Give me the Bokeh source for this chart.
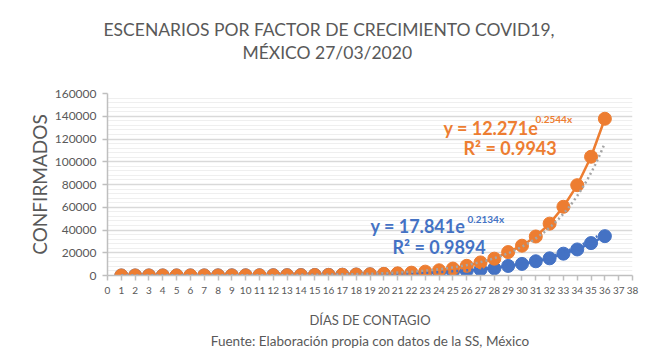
import numpy as np
from bokeh.plotting import figure
from bokeh.models import Range1d, Label, FixedTicker, NumeralTickFormatter, Title
from bokeh.embed import file_html
from bokeh.resources import INLINE

# ---------------- data ----------------
dias = list(range(1, 37))
escenario_alto = [8, 10, 14, 18, 24, 31, 41, 54, 70, 93, 122, 160, 210, 277, 364, 479,
                  630, 828, 1089, 1432, 1883, 2476, 3400, 4600, 6100, 8500, 11500, 14800,
                  20600, 26200, 34300, 45600, 60400, 79400, 104400, 137800]
escenario_bajo = [30, 37, 45, 55, 67, 81, 99, 120, 146, 178, 216, 263, 320, 389, 473, 575,
                  700, 850, 1035, 1260, 1530, 1860, 2270, 2760, 3350, 4100, 5200, 6300,
                  8400, 10200, 12500, 15100, 19200, 22900, 28500, 34600]
x_ticks = list(range(0, 39))
y_ticks = list(range(0, 160001, 20000))
y_minor = [v for v in range(0, 160001, 4000) if v % 20000 != 0]

titulo = ["ESCENARIOS POR FACTOR DE CRECIMIENTO COVID19,", "MÉXICO 27/03/2020"]
eje_x = "DÍAS DE CONTAGIO"
eje_y = "CONFIRMADOS"
fuente = "Fuente: Elaboración propia con datos de la SS, México"

# trendline equations shown on the chart
a_alto, b_alto, r2_alto = 12.271, 0.2544, 0.9943
a_bajo, b_bajo, r2_bajo = 17.841, 0.2134, 0.9894

ORANGE = "#ED7D31"
BLUE = "#4472C4"
GRAY_TXT = "#595959"
FONT = "Lato"

W, H = 644, 348
L, R, T, B = 107, 12, 93, 71
FW, FH = W - L - R, H - T - B
X0, X1, Y0, Y1 = 0, 38, 0, 160000


def dx(px):
    return X0 + (px - L) / FW * (X1 - X0)


def dy(py):
    return Y0 + (T + FH - py) / FH * (Y1 - Y0)


p = figure(width=W, height=H, output_backend="svg", toolbar_location=None,
           x_range=Range1d(X0, X1), y_range=Range1d(Y0, Y1),
           min_border_left=L, min_border_right=R, min_border_top=T, min_border_bottom=B)
p.outline_line_color = None
p.background_fill_color = "white"
p.border_fill_color = "white"

p.xgrid.visible = False
p.ygrid.ticker = FixedTicker(ticks=y_ticks, minor_ticks=y_minor)
p.ygrid.grid_line_color = "#d9d9d9"
p.ygrid.grid_line_width = 1.5
p.ygrid.minor_grid_line_color = "#efefef"
p.ygrid.minor_grid_line_width = 1

for ax in (p.xaxis[0], p.yaxis[0]):
    ax.axis_line_color = "#bfbfbf"
    ax.axis_line_width = 1.5
    ax.major_tick_line_color = "#bfbfbf"
    ax.major_tick_line_width = 1.5
    ax.major_tick_in = 0
    ax.major_tick_out = 5
    ax.minor_tick_line_color = None
    ax.major_label_text_color = GRAY_TXT
    ax.major_label_text_font = FONT
    ax.axis_label_text_color = GRAY_TXT
    ax.axis_label_text_font = FONT
    ax.axis_label_text_font_style = "normal"

p.xaxis.ticker = FixedTicker(ticks=x_ticks)
p.xaxis.major_label_text_font_size = "10px"
p.xaxis.major_label_standoff = 6
p.xaxis.axis_label = eje_x
p.xaxis.axis_label_text_font_size = "13px"
p.xaxis.axis_label_standoff = 15

p.yaxis.ticker = FixedTicker(ticks=y_ticks)
p.yaxis.formatter = NumeralTickFormatter(format="0")
p.yaxis.major_label_text_font_size = "12px"
p.yaxis.major_label_standoff = 6
p.yaxis.axis_label = eje_y
p.yaxis.axis_label_text_font_size = "19px"
p.yaxis.axis_label_standoff = 1

# source note below x-axis title
p.add_layout(Title(text=fuente, align="center", text_font=FONT, text_font_size="13.5px",
                   text_color=GRAY_TXT, text_font_style="normal", standoff=0), "below")
# spacer between frame and title block, then the two title lines (inner first)
p.add_layout(Title(text=" ", align="left", text_font=FONT, text_font_size="17.5px",
                   text_color="white", standoff=8), "above")
p.add_layout(Title(text=titulo[1], align="left", offset=135, text_font=FONT,
                   text_font_size="17.5px", text_color=GRAY_TXT, text_font_style="normal",
                   standoff=0), "above")
p.add_layout(Title(text=titulo[0], align="left", offset=-4, text_font=FONT,
                   text_font_size="17.5px", text_color=GRAY_TXT, text_font_style="normal",
                   standoff=0), "above")

# series
p.line(dias, escenario_bajo, line_color=BLUE, line_width=2.5)
p.scatter(dias, escenario_bajo, size=13, fill_color=BLUE, line_color=BLUE)
p.line(dias, escenario_alto, line_color=ORANGE, line_width=2.5)
p.scatter(dias, escenario_alto, size=13, fill_color=ORANGE, line_color=ORANGE)

# trendlines from displayed equations
xt = np.linspace(dias[0], dias[-1], 200)
p.line(xt, a_bajo * np.exp(b_bajo * xt), line_color=BLUE, line_width=2.5, line_dash="2 3")
p.line(xt, a_alto * np.exp(b_alto * xt), line_color="#A5A5A5", line_width=2.5, line_dash="2 3")


def lab(px, py, text, size, color):
    p.add_layout(Label(x=dx(px), y=dy(py), text=text, text_align="left",
                       text_baseline="alphabetic", text_font=FONT,
                       text_font_size=f"{size}px", text_color=color,
                       text_font_style="bold"))

lab(443, 128, "y = 12.271e", 18, ORANGE)
lab(535, 119, f"{b_alto}x", 10, ORANGE)
lab(463, 148, f"R² = {r2_alto}", 18, ORANGE)

lab(370, 227, "y = 17.841e", 18, BLUE)
lab(467, 220, f"{b_bajo}x", 10, BLUE)
lab(392, 248, f"R² = {r2_bajo}", 18, BLUE)

open("out.html", "w").write(file_html(p, INLINE))
